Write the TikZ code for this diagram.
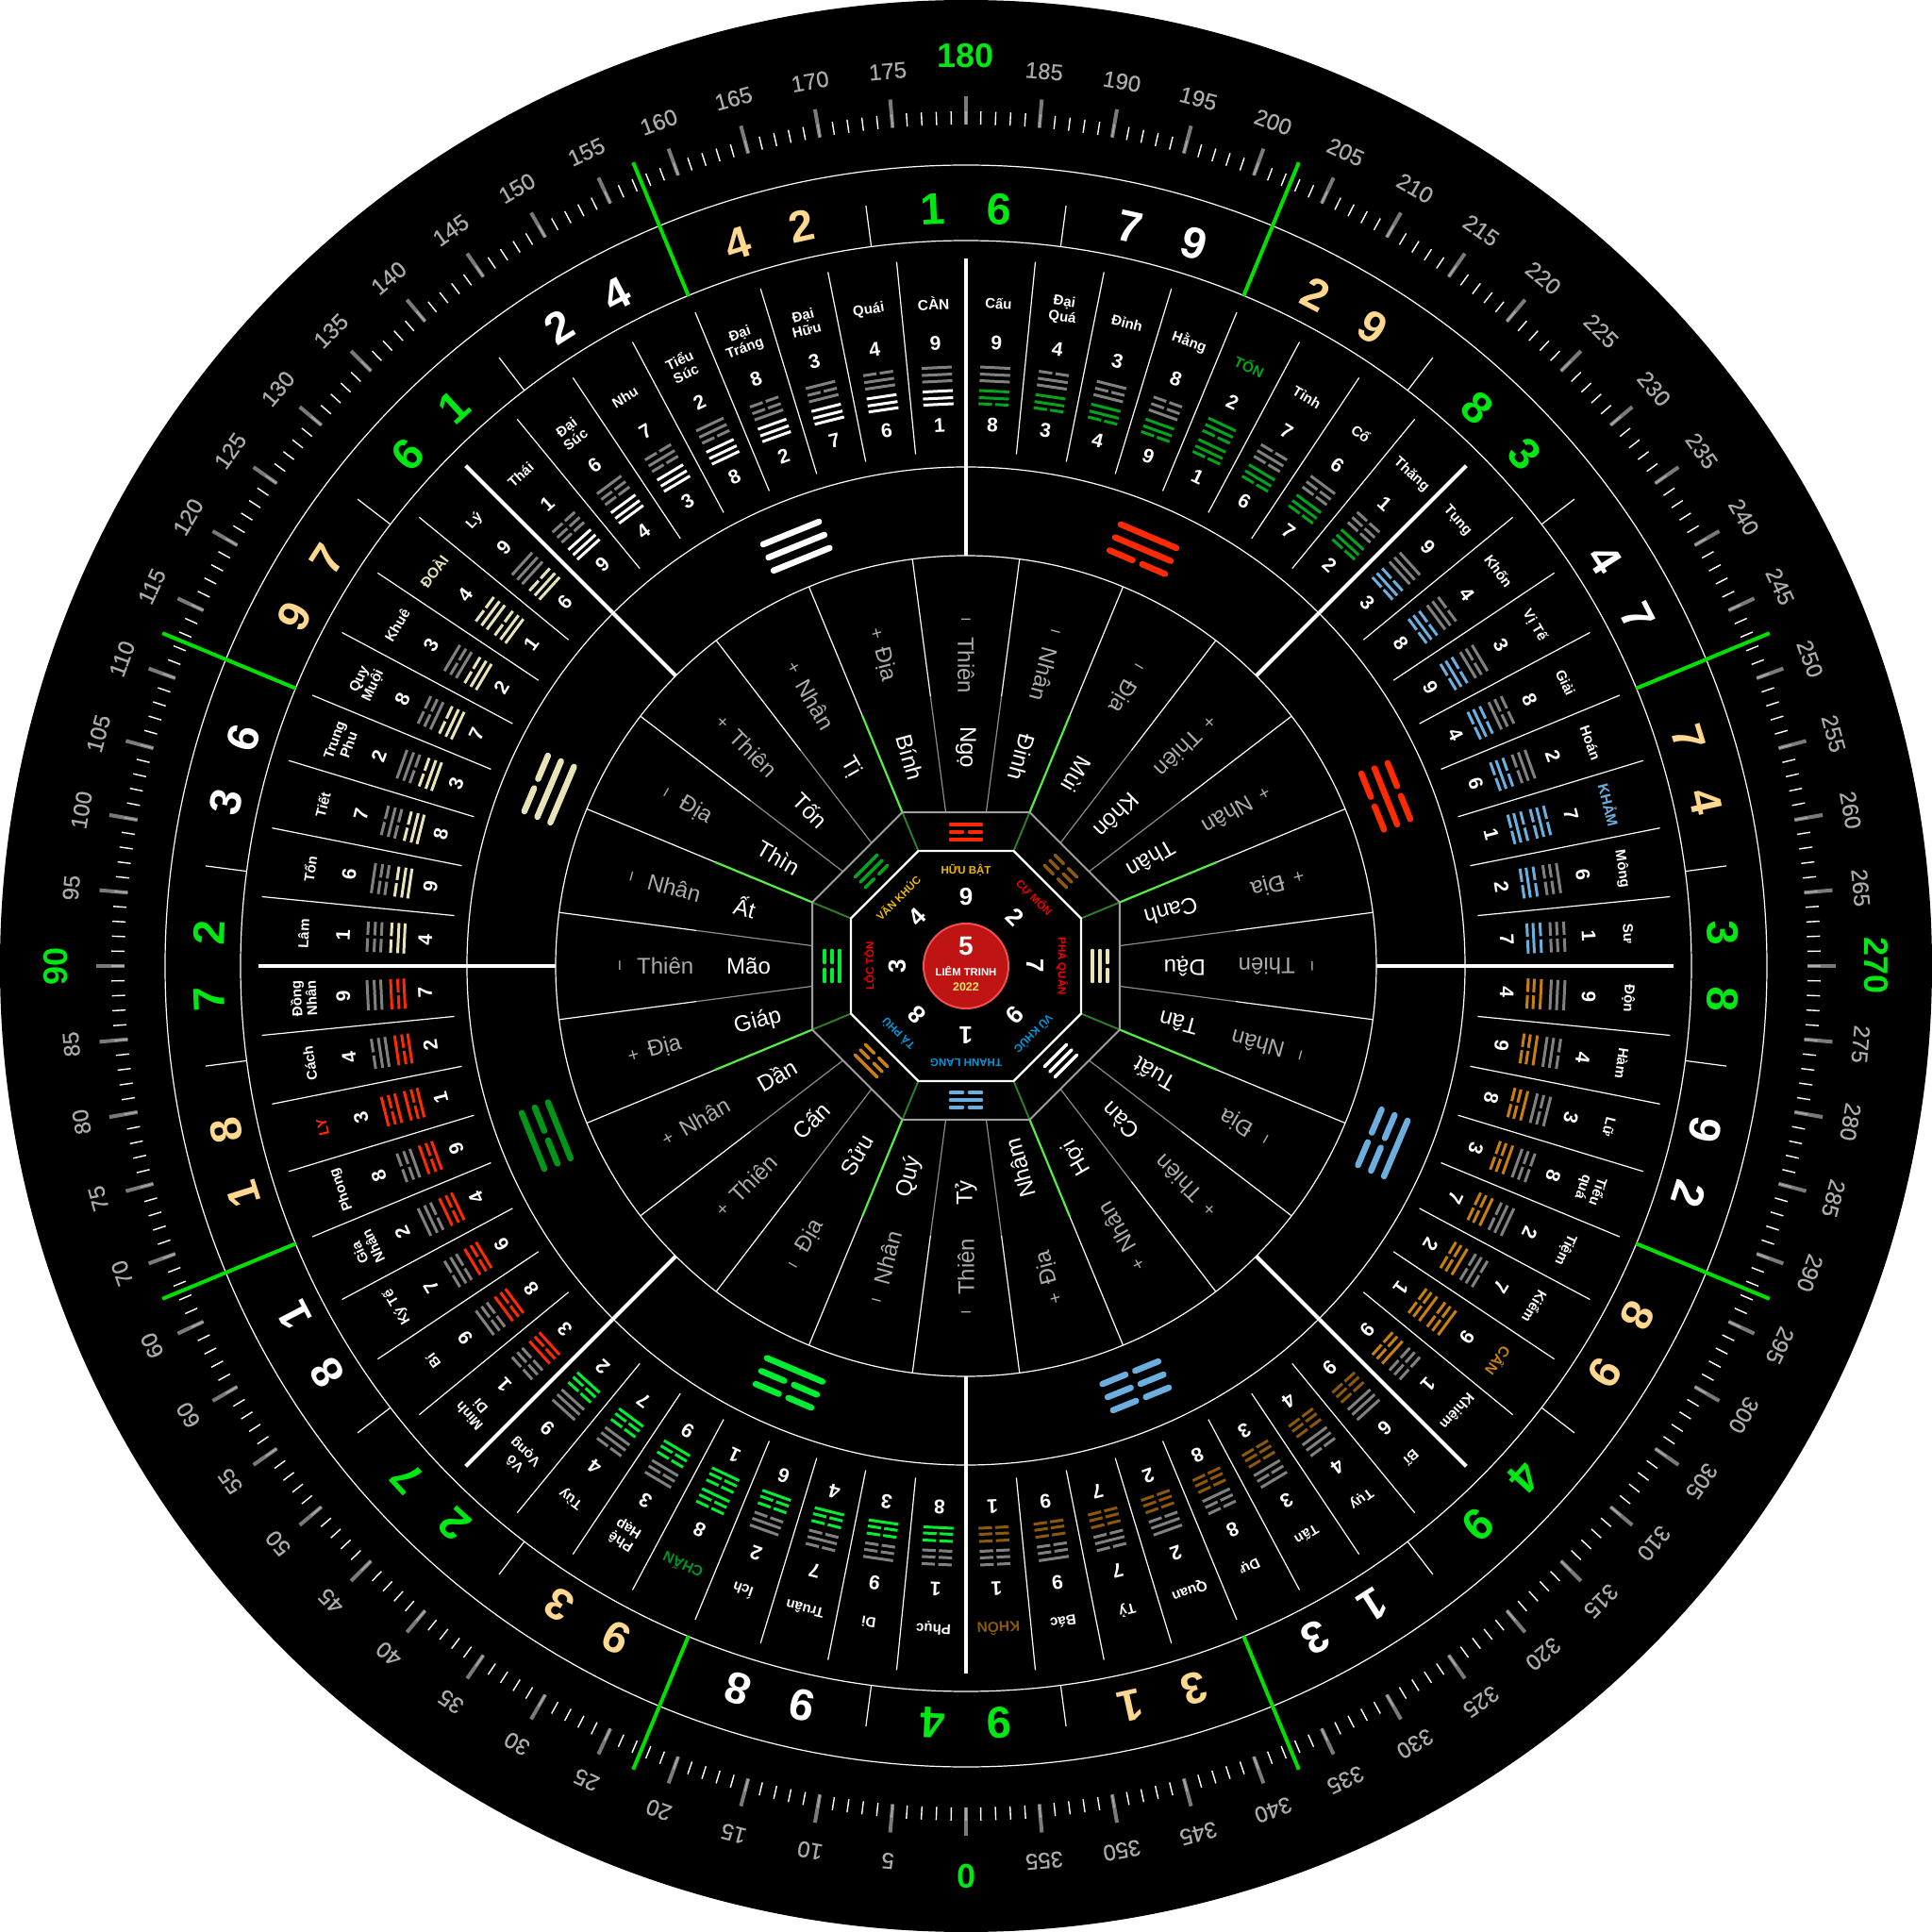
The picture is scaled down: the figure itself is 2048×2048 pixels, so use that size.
\documentclass[tikz,border=0pt]{standalone}
\usepackage{fontspec}
\setmainfont{Liberation Sans}
\newfontfamily\medfont[FakeBold=0.4]{Liberation Sans}
\usepackage{tikz}
\definecolor{tongreen}{RGB}{0,165,30}
\definecolor{chanbright}{RGB}{0,238,50}
\definecolor{chanlabel}{RGB}{0,150,30}
\definecolor{ligreen}{RGB}{0,150,25}
\definecolor{khamblue}{RGB}{108,174,222}
\definecolor{canorange}{RGB}{200,128,10}
\definecolor{khonbrown}{RGB}{140,88,10}
\definecolor{lyred}{RGB}{255,42,0}
\definecolor{doaicream}{RGB}{232,228,184}
\definecolor{hexgray}{RGB}{128,128,128}
\definecolor{palaceyellow}{RGB}{235,185,0}
\definecolor{palacered}{RGB}{240,0,0}
\definecolor{palaceblue}{RGB}{0,153,224}
\definecolor{ringgreen}{RGB}{0,232,20}
\definecolor{ringcream}{RGB}{255,216,144}
\definecolor{linegreen}{RGB}{0,224,0}
\definecolor{litgreen}{RGB}{85,238,68}
\definecolor{dimgreen}{RGB}{42,122,42}
\definecolor{softgray}{RGB}{172,172,172}

% yao pattern of a trigram, outer to inner
\newcommand{\setyao}[1]{\ifcase#1\or\def\ya{1}\def\yb{1}\def\yc{1}\or\def\ya{0}\def\yb{1}\def\yc{1}\or\def\ya{1}\def\yb{0}\def\yc{1}\or\def\ya{0}\def\yb{0}\def\yc{1}\or\def\ya{1}\def\yb{1}\def\yc{0}\or\def\ya{0}\def\yb{1}\def\yc{0}\or\def\ya{1}\def\yb{0}\def\yc{0}\or\def\ya{0}\def\yb{0}\def\yc{0}\fi}
\newcommand{\yaoline}[5]{\ifnum#1=1 \draw[#5] (-#3,#2) -- (#3,#2);\else\draw[#5] (-#3,#2) -- (-#4,#2) (#4,#2) -- (#3,#2);\fi}
\newcommand{\trigram}[7]{\setyao{#1}\yaoline{\ya}{#2}{#5}{#6}{#7}\yaoline{\yb}{#3}{#5}{#6}{#7}\yaoline{\yc}{#4}{#5}{#6}{#7}}
\newcommand{\capname}[1]{\fontsize{15.5}{16}\selectfont #1}
% start, inner trigram, colour, self outer colour, name colour, rows
\newcommand{\hexsector}[6]{%
  \foreach \nm/\up/\lo/\out [count=\k from 0] in {#6}{
    \pgfmathsetmacro\a{180-(#1+5.625*(\k+0.5))}
    \ifnum\out=#2 \def\oc{#4}\def\nc{#5}\else\def\oc{hexgray}\def\nc{white}\fi
    \begin{scope}[rotate=\a, transform shape]
      \node[hexname, text=\nc] (name#1x\k) at (0,703) {\nm};
      \node[hexdigit] (up#1x\k) at (0,661) {\up};
      \node[hexdigit] (lo#1x\k) at (0,574) {\lo};
      \trigram{\out}{635}{627.5}{620.5}{16}{1.7}{hexyao, \oc}
      \trigram{#2}{610}{602.5}{596}{16}{1.7}{hexyao, #3}
    \end{scope}
    \begin{scope}[rotate=180-(#1+5.625*(\k+1))]
      \ifnum\k<7 \draw[thinline] (0,545) -- (0,750);\fi
    \end{scope}
  }
}

\begin{document}
\begin{tikzpicture}[
  x=1pt, y=1pt,
  ringline/.style={white, line width=1.2pt},
  thinline/.style={white, line width=1.2pt},
  thickline/.style={white, line width=4pt},
  greenline/.style={linegreen, line width=4pt},
  grayline/.style={gray!90, line width=1.2pt},
  minortick/.style={white, line width=1.4pt},
  majortick/.style={gray!80, opacity=0.8, line width=4pt},
  hexyao/.style={line width=3pt},
  bigyao/.style={line width=6.5pt, line cap=round},
  palaceyao/.style={line width=3.5pt, line cap=round},
  tickdeg/.style={inner sep=0, text=softgray, font=\medfont\fontsize{24}{24}\selectfont},
  tickmain/.style={inner sep=0, text=ringgreen, font=\bfseries\fontsize{36}{36}\selectfont},
  ringdigit/.style={inner sep=0, font=\bfseries\fontsize{47}{47}\selectfont},
  hexdigit/.style={inner sep=0, text=white, font=\bfseries\fontsize{21}{21}\selectfont},
  hexname/.style={inner sep=0, align=center, font=\bfseries\fontsize{15}{16}\selectfont},
  mountain/.style={inner sep=0, anchor=west, rotate=-90, text=white, font=\fontsize{24}{24}\selectfont},
  tier/.style={inner sep=0, anchor=west, rotate=-90, text=softgray, font=\fontsize{24}{24}\selectfont},
  signmark/.style={inner sep=0, text=softgray, font=\fontsize{20}{20}\selectfont},
  palace/.style={inner sep=0, font=\bfseries\fontsize{11.5}{11.5}\selectfont},
  palacedigit/.style={inner sep=0, text=white, font=\bfseries\fontsize{26}{26}\selectfont}
]
  \useasboundingbox (-1024,-1024) rectangle (1024,1024);
  \fill[white] (-1024,-1024) rectangle (1024,1024);
  \fill[black] (0,0) circle (1024);

  % Rings
  \foreach \r in {849,769,529,435}
    \draw[ringline] (0,0) circle (\r);

  % Degree scale
  \foreach \d in {0,...,359}
    \draw[minortick, rotate=180-\d] (0,892) -- (0,906);
  \foreach \d in {0,5,...,355}
    \draw[majortick, rotate=180-\d] (0,892) -- (0,922);
  \foreach \d [evaluate=\d as \shown using {int(\d==65?60:\d)}] in {5,10,...,85,95,100,...,175,185,190,...,265,275,280,...,355}
    \node[tickdeg, rotate=180-\d] (deg\d) at (270-\d:952) {\shown};
  \foreach \d in {0,90,180,270}
    \node[tickmain, rotate=180-\d] (deg\d) at (270-\d:965) {\d};

  % Long green marks
  \foreach \d in {22.5,67.5,...,337.5}
    \draw[greenline, rotate=180-\d] (0,769) -- (0,922);
  % Short marks in the number ring
  \foreach \d in {7.5,37.5,52.5,82.5,97.5,127.5,142.5,172.5,187.5,217.5,232.5,262.5,277.5,307.5,322.5,352.5}
    \draw[thinline, rotate=180-\d] (0,769) -- (0,813);

  % Number ring
  \foreach \d/\pa/\pb/\cl in {180/1/6/ringgreen,195/7/9/white,210/2/9/ringcream,225/8/3/ringgreen,
    240/4/7/white,255/7/4/ringcream,270/3/8/ringgreen,285/9/2/white,300/8/9/ringcream,315/4/9/ringgreen,
    330/1/3/white,345/3/1/ringcream,0/9/4/ringgreen,15/9/8/white,30/9/3/ringcream,45/2/7/ringgreen,
    60/8/1/white,75/1/8/ringcream,90/7/2/ringgreen,105/3/6/white,120/9/7/ringcream,135/6/1/ringgreen,
    150/2/4/white,165/4/2/ringcream}{
    \node[ringdigit, text=\cl, rotate=180-\d+2.5] (pa\d) at (270-\d+2.5:803) {\pa};
    \node[ringdigit, text=\cl, rotate=180-\d-2.5] (pb\d) at (270-\d-2.5:803) {\pb};
  }

  % Main spokes
  \foreach \d in {0,45,...,315}
    \draw[thickline, rotate=180-\d] (0,435) -- (0,750);

  % 64 hexagrams
  \hexsector{180}{5}{tongreen}{tongreen}{tongreen}{Cấu/9/8/1,{Đại\\Quá}/4/3/2,Đỉnh/3/4/3,Hằng/8/9/4,\capname{TỐN}/2/1/5,Tỉnh/7/6/6,Cổ/6/7/7,Thăng/1/2/8}
  \hexsector{225}{6}{khamblue}{khamblue}{khamblue}{Tụng/9/3/1,Khốn/4/8/2,Vị Tế/3/9/3,Giải/8/4/4,Hoán/2/6/5,\capname{KHẢM}/7/1/6,Mông/6/2/7,Sư/1/7/8}
  \hexsector{270}{7}{canorange}{canorange}{canorange}{Độn/9/4/1,Hàm/4/9/2,Lữ/3/8/3,{Tiểu\\quá}/8/3/4,Tiệm/2/7/5,Kiểm/7/2/6,\capname{CẤN}/9/1/7,Khiêm/1/9/8}
  \hexsector{315}{8}{khonbrown}{hexgray}{khonbrown}{Bĩ/6/9/1,Tụy/4/4/2,Tấn/3/3/3,Dự/8/8/4,Quan/2/2/5,Tỷ/7/7/6,Bác/9/9/7,\capname{KHÔN}/1/1/8}
  \hexsector{0}{4}{chanbright}{chanbright}{chanlabel}{Phục/1/8/8,Di/9/3/7,Truân/7/4/6,Ích/2/6/5,\capname{CHẤN}/8/1/4,{Phệ\\Hạp}/3/9/3,Tùy/4/7/2,{Vô\\Vọng}/9/2/1}
  \hexsector{45}{3}{lyred}{lyred}{lyred}{{Minh\\Di}/1/3/8,Bí/9/8/7,Ký Tế/7/6/6,{Gia\\Nhân}/2/4/5,Phong/8/9/4,\capname{LY}/3/1/3,Cách/4/2/2,{Đồng\\Nhân}/9/7/1}
  \hexsector{90}{2}{doaicream}{doaicream}{doaicream}{Lâm/1/4/8,Tổn/6/9/7,Tiết/7/8/6,{Trung\\Phu}/2/3/5,{Quy\\Muội}/8/7/4,Khuê/3/2/3,\capname{ĐOÀI}/4/1/2,Lý/9/6/1}
  \hexsector{135}{1}{white}{hexgray}{white}{Thái/1/9/8,{Đại\\Súc}/6/4/7,Nhu/7/3/6,{Tiểu\\Súc}/2/8/5,{Đại\\Tráng}/8/2/4,{Đại\\Hữu}/3/7/3,Quái/4/6/2,\capname{CÀN}/9/1/1}

  % Big trigrams
  \foreach \d/\tg/\cl in {202.5/5/lyred,247.5/6/lyred,292.5/7/khamblue,337.5/8/khamblue,22.5/4/chanbright,67.5/3/ligreen,112.5/2/doaicream,157.5/1/white}{
    \begin{scope}[rotate=180-\d-0.5]
      \trigram{\tg}{495}{480}{465}{32}{5.5}{bigyao, \cl}
    \end{scope}
  }

  % 24 mountains
  \foreach \d/\mt/\tr/\sg in {180/Ngọ/Thiên/−,195/Đinh/Nhân/−,210/Mùi/Địa/−,225/Khôn/Thiên/+,240/Thân/Nhân/+,255/Canh/Địa/+,
    270/Dậu/Thiên/−,285/Tân/Nhân/−,300/Tuất/Địa/−,315/Càn/Thiên/+,330/Hợi/Nhân/+,345/Nhâm/Địa/+,
    0/Tỷ/Thiên/−,15/Quý/Nhân/−,30/Sửu/Địa/−,45/Cấn/Thiên/+,60/Dần/Nhân/+,75/Giáp/Địa/+,
    90/Mão/Thiên/−,105/Ất/Nhân/−,120/Thìn/Địa/−,135/Tốn/Thiên/+,150/Tị/Nhân/+,165/Bính/Địa/+}{
    \begin{scope}[rotate=180-\d, transform shape]
      \node[mountain] (mt\d) at (0,254) {\mt};
      \node[tier] (tr\d) at (0,349) {\tr};
      \node[signmark] (sg\d) at (0,364) {\sg};
    \end{scope}
  }
  \foreach \d in {7.5,37.5,52.5,82.5,97.5,127.5,142.5,172.5,187.5,217.5,232.5,262.5,277.5,307.5,322.5,352.5}{
    \draw[grayline, rotate=180-\d] (0,164.4) -- (0,288);
    \draw[thinline, rotate=180-\d] (0,288) -- (0,435);
  }
  \foreach \d in {22.5,67.5,...,337.5}{
    \draw[dimgreen, line width=2pt, rotate=180-\d] (0,132) -- (0,176.4);
    \draw[litgreen, line width=2.2pt, rotate=180-\d] (0,176.4) -- (0,288);
    \draw[thinline, rotate=180-\d] (0,288) -- (0,435);
  }

  % Octagons
  \draw[gray!75!white, line width=2pt] (22.5:176.4) -- (67.5:176.4) -- (112.5:176.4) -- (157.5:176.4) -- (202.5:176.4) -- (247.5:176.4) -- (292.5:176.4) -- (337.5:176.4) -- cycle;
  \draw[white, line width=2.2pt] (22.5:132) -- (67.5:132) -- (112.5:132) -- (157.5:132) -- (202.5:132) -- (247.5:132) -- (292.5:132) -- (337.5:132) -- cycle;

  % Palaces
  \foreach \d/\tg/\cl/\num/\st/\sc in {180/3/lyred/9/HỮU BẬT/palaceyellow,225/8/khonbrown/2/CỰ MÔN/palacered,270/2/doaicream/7/PHÁ QUÂN/palacered,
    315/1/white/9/VŨ KHÚC/palaceblue,0/6/khamblue/1/THANH LANG/palaceblue,45/7/canorange/8/TẢ PHÙ/palaceblue,
    90/4/chanbright/3/LỘC TỒN/palacered,135/5/tongreen/4/VĂN KHÚC/palaceyellow}{
    \begin{scope}[rotate=180-\d, transform shape]
      \trigram{\tg}{149.8}{142}{134.2}{16.5}{3.5}{palaceyao, \cl}
      \node[palace, text=\sc] (st\d) at (0,102) {\st};
      \node[palacedigit] (num\d) at (0,73) {\num};
    \end{scope}
  }

  % Centre
  \node[circle, draw={rgb,255:red,240;green,80;blue,80}, line width=2pt, fill={rgb,255:red,190;green,20;blue,20}, minimum size=90pt, inner sep=0] (hub) at (0,0) {};
  \node[inner sep=0, text=white, font=\bfseries\fontsize{28}{28}\selectfont] (huba) at (0,20.5) {5};
  \node[inner sep=0, text=white, font=\bfseries\fontsize{11.3}{11.3}\selectfont] (hubb) at (0,-5.4) {LIÊM TRINH};
  \node[inner sep=0, text=ringcream!70!yellow, font=\bfseries\fontsize{12.5}{12.5}\selectfont] (hubc) at (0,-21.7) {2022};
\end{tikzpicture}
\end{document}
